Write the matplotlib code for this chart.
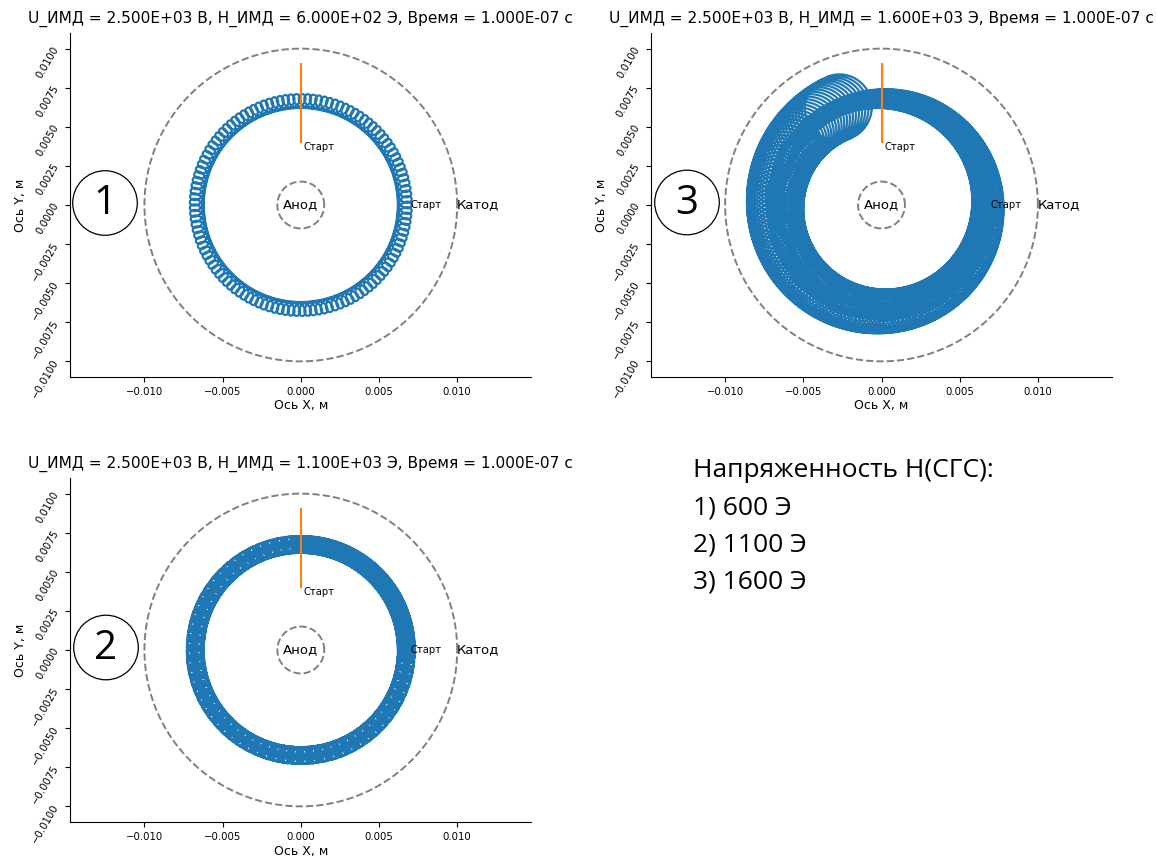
import numpy as np
import matplotlib
matplotlib.use("Agg")
import matplotlib.pyplot as plt
from matplotlib.patches import Circle

# Operating point of the magnetron
U_volts = 2.5e3
H_oersted = [600, 1100, 1600]
t_end = 1.0e-7
panel_labels = ["1", "2", "3"]

# Electron orbit description for each field value:
# guiding-centre radius, gyration radius at the start and after relaxation,
# turns needed for the relaxation, drift turns, gyration loops, start angle
guide_radius = [0.00665, 0.00675, 0.0068]
gyro_radius_start = [0.00045, 0.00055, 0.0021]
gyro_radius_end = [0.00045, 0.00055, 0.00050]
relax_turns = [1.0, 1.0, 1.0]
drift_turns = [3.0, 4.25, 2.9]
gyro_loops = [118, 300, 560]
start_angle_deg = [0.0, 0.0, 113.0]

# Electrodes
anode_radius = 0.0015
cathode_radius = 0.010
marker_y = [0.004, 0.009]

legend_title = "Напряженность Н(СГС):"
legend_lines = ["1) 600 Э", "2) 1100 Э", "3) 1600 Э"]

W, H = 1157, 856
fig = plt.figure(figsize=(W / 100, H / 100), dpi=100)


def px_axes(left, top, right, bottom):
    return fig.add_axes([left / W, 1 - bottom / H, (right - left) / W, (bottom - top) / H])


def orbit(i):
    s = np.linspace(0.0, 1.0, gyro_loops[i] * 80)
    a0 = np.deg2rad(start_angle_deg[i])
    phi = a0 + 2 * np.pi * drift_turns[i] * s
    psi = a0 - 2 * np.pi * gyro_loops[i] * s
    frac = np.clip(drift_turns[i] * s / relax_turns[i], 0, 1)
    rho = gyro_radius_start[i] + (gyro_radius_end[i] - gyro_radius_start[i]) * frac
    x = guide_radius[i] * np.cos(phi) + rho * np.cos(psi)
    y = guide_radius[i] * np.sin(phi) + rho * np.sin(psi)
    return x, y


# panel boxes in pixels: left, top, right, bottom
boxes = [(70.3, 33, 531.3, 377), (70.3, 478, 531.3, 822), (651, 33, 1112, 377)]
orbit_lw = [1.6, 1.35, 1.6]
half_y = 0.011
theta = np.linspace(0, 2 * np.pi, 400)

for i, box in enumerate(boxes):
    ax = px_axes(*box)
    scale = (box[3] - box[1]) / (2 * half_y)
    half_x = (box[2] - box[0]) / 2 / scale
    ax.set_xlim(-half_x, half_x)
    ax.set_ylim(-half_y, half_y)

    x, y = orbit(i)
    ax.plot(x, y, color="#1f77b4", lw=orbit_lw[i])
    ax.plot([0, 0], marker_y, color="#ff7f0e", lw=1.5)

    ax.plot(anode_radius * np.cos(theta), anode_radius * np.sin(theta),
            ls="--", color="gray", lw=1.4)
    ax.plot(cathode_radius * np.cos(theta), cathode_radius * np.sin(theta),
            ls="--", color="gray", lw=1.4)

    ax.text(0.0002, 0.0040, "Старт", fontsize=7.2, ha="left", va="top")
    ax.text(0.0070, 0.0, "Старт", fontsize=7.2, ha="left", va="center")
    ax.text(0.0, 0.0, "Анод", fontsize=9.5, ha="center", va="center")
    ax.text(0.0100, 0.0, "Катод", fontsize=9.5, ha="left", va="center")

    ax.set_xticks([-0.01, -0.005, 0.0, 0.005, 0.01])
    ax.set_yticks(np.arange(-0.01, 0.01001, 0.0025))
    ax.tick_params(labelsize=7.3, length=3.5)
    for lab in ax.get_yticklabels():
        lab.set_rotation(60)
    ax.spines["top"].set_visible(False)
    ax.spines["right"].set_visible(False)
    ax.set_xlabel("Ось X, м", fontsize=9, labelpad=2)
    ax.set_ylabel("Ось Y, м", fontsize=9, labelpad=2)
    ax.set_title(f"U_ИМД = {U_volts:.3E} В, Н_ИМД = {H_oersted[i]:.3E} Э, "
                 f"Время = {t_end:.3E} с", fontsize=11.1, pad=7)

# Overlay in pixel coordinates for the circled panel numbers and the legend text
ov = fig.add_axes([0, 0, 1, 1])
ov.set_xlim(0, W)
ov.set_ylim(H, 0)
ov.axis("off")
ov.patch.set_alpha(0)

circle_centres = [(105, 203), (106, 647.5), (687, 202.5)]
for (cx, cy), lab in zip(circle_centres, panel_labels):
    ov.add_patch(Circle((cx, cy), 32.3, fill=False, ec="black", lw=0.9))
    ov.text(cx, cy + 1, lab, fontsize=29, ha="center", va="center",
            family=["Open Sans", "DejaVu Sans"])

ov.text(693, 470.7, legend_title, fontsize=19, ha="left", va="center",
        family=["Open Sans", "DejaVu Sans"])
for k, line in enumerate(legend_lines):
    ov.text(693, 508 + 37 * k, line, fontsize=19, ha="left", va="center",
            family=["Open Sans", "DejaVu Sans"])

fig.savefig("out.png", dpi=100)
